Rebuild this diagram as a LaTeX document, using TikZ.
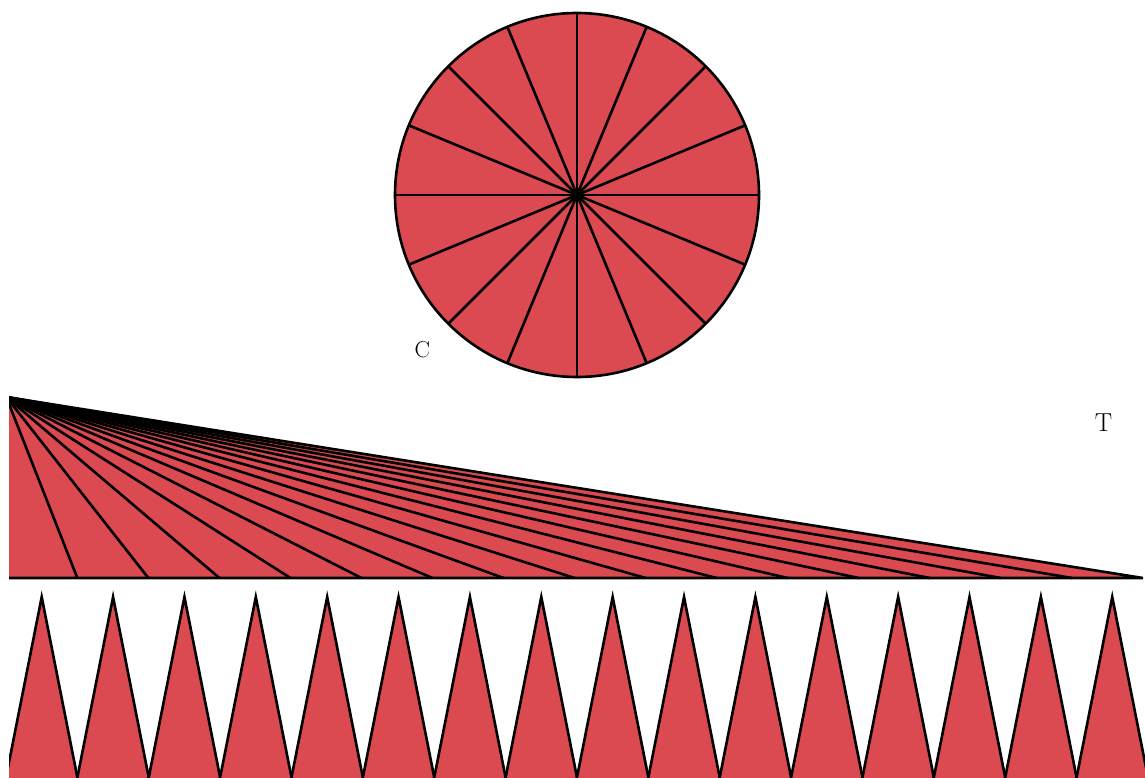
\documentclass[tikz,border=0pt]{standalone}
\definecolor{sect}{RGB}{219,73,81}
\begin{document}
\begin{tikzpicture}[x=1pt,y=-1pt,line width=2.6pt,
  piece/.style={fill=sect,draw=black},
  spoke/.style={draw=black},
  lbl/.style={inner sep=0pt,text=black}]
\useasboundingbox (0,0) rectangle (1145,778);
\clip (9,0) rectangle (1145,778);
% circle cut into 16 sectors
\coordinate (O) at (577,195);
\fill[sect] (O) circle[radius=182];
\foreach \a in {0,22.5,...,337.5}
  \draw[spoke] (O) -- ++(\a:182 and -182);
\draw (O) circle[radius=182];
% fan triangle
\coordinate (A) at (6.3,397);
\coordinate (B0) at (6.3,578);
\coordinate (B16) at (1142.9,578);
\fill[sect] (A) -- (B0) -- (B16) -- cycle;
\foreach \k in {1,...,15}
  \draw[spoke] (A) -- (6.3+\k*71.04,578);
\draw (A) -- (B0) -- (B16) -- cycle;
% row of teeth
\foreach \k in {0,...,15}{
  \path[piece] (41.7+\k*71.37,597) -- (41.7+\k*71.37+36.1,779.5) -- (41.7+\k*71.37-36.1,779.5) -- cycle;
}
\node[lbl] (C) at (422.3,349.5) {\fontsize{23}{26}\selectfont C};
\node[lbl] (T) at (1103.5,423) {\fontsize{26}{30}\selectfont T};
\end{tikzpicture}
\end{document}
